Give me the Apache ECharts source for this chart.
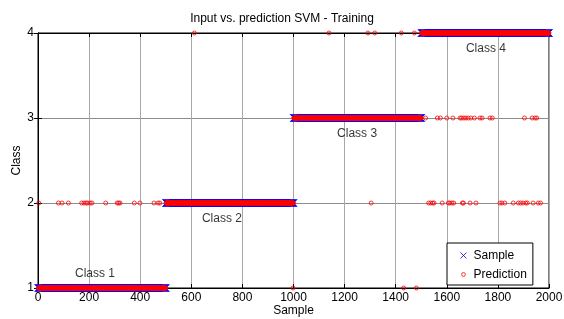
<!DOCTYPE html>
<html>
<head>
<meta charset="utf-8">
<script src="https://cdn.jsdelivr.net/npm/echarts@6/dist/echarts.min.js"></script>
<style>
  html, body { margin: 0; padding: 0; background: #fff; }
  #chart { width: 564px; height: 319px; }
</style>
</head>
<body>
<div id="chart"></div>
<script>
// sample blocks: samples classStart..classEnd belong to classValue
var classStart = [1, 501, 1001, 1501]
var classEnd = [500, 1000, 1500, 2000]
var classValue = [1, 2, 3, 4]

// misclassified samples and the class predicted for them
var wrongIndex = [
  612, 1139, 1291, 1318, 1422, 1473,
  1517, 1563, 1575, 1600, 1624, 1652, 1658, 1667, 1675, 1684, 1694, 1708, 1730, 1738, 1769, 1778, 1904, 1934, 1945, 1952,
  3, 80, 94, 119, 171, 180, 188, 194, 204, 211, 265, 310, 316, 321, 377, 399, 454, 470, 477,
  1304, 1529, 1537, 1545, 1550, 1582, 1606, 1612, 1620, 1627, 1661, 1665, 1691, 1714, 1808, 1816, 1827, 1860, 1880, 1889, 1898, 1909, 1915, 1938, 1958, 1967,
  998, 1431, 1481
]
var wrongClass = [
  4, 4, 4, 4, 4, 4,
  3, 3, 3, 3, 3, 3, 3, 3, 3, 3, 3, 3, 3, 3, 3, 3, 3, 3, 3, 3,
  2, 2, 2, 2, 2, 2, 2, 2, 2, 2, 2, 2, 2, 2, 2, 2, 2, 2, 2,
  2, 2, 2, 2, 2, 2, 2, 2, 2, 2, 2, 2, 2, 2, 2, 2, 2, 2, 2, 2, 2, 2, 2, 2, 2, 2,
  1, 1, 1
]

// text annotations (like matlab text(x, y, ...))
var noteText = ['Class 1', 'Class 2', 'Class 3', 'Class 4']
var noteX = [223, 720, 1249, 1753]
var noteY = [1.165, 1.82, 2.82, 3.81]

var sampleData = []
var predData = []
var wrongMap = {}
wrongIndex.forEach(function (idx, k) { wrongMap[idx] = wrongClass[k] })
for (var b = 0; b < classStart.length; b++) {
  for (var i = classStart[b]; i <= classEnd[b]; i++) {
    sampleData.push([i, classValue[b]])
    predData.push([i, wrongMap[i] !== undefined ? wrongMap[i] : classValue[b]])
  }
}
var notes = noteText.map(function (t, k) {
  return { name: t, value: [noteX[k], noteY[k]] }
})

var xPath = 'path://M0,0L10,10M10,0L0,10'
var circlePath = 'path://M0,0M16,16M8,5A3,3,0,1,1,7.99,5Z'
var font = 'Liberation Sans, Arial, sans-serif'
var plainNum = function (v) { return String(v) }

var chart = echarts.init(document.getElementById('chart'), null, { renderer: 'canvas' })
chart.setOption({
  animation: false,
  title: {
    text: 'Input vs. prediction SVM - Training',
    left: 'center',
    top: 8,
    textStyle: { fontSize: 12, fontWeight: 'normal', color: '#000', fontFamily: font }
  },
  grid: {
    left: 38, right: 15, top: 33, bottom: 31,
    outerBoundsMode: 'none',
    containLabel: false,
    show: true, borderColor: '#000', borderWidth: 1
  },
  legend: {
    left: 447,
    top: 243,
    orient: 'vertical',
    backgroundColor: '#fff',
    borderColor: '#000',
    borderWidth: 1,
    borderRadius: 0,
    padding: [5, 6, 3, 9],
    itemGap: 4,
    itemWidth: 10,
    itemHeight: 10,
    textStyle: { fontSize: 12, color: '#000', fontFamily: font },
    data: [
      { name: 'Sample', icon: 'path://M0,0M10,10M2,2L8,8M8,2L2,8', itemStyle: { color: 'none', borderColor: '#0000ff', borderWidth: 1 } },
      { name: 'Prediction', icon: circlePath, itemStyle: { color: 'none', borderColor: '#ff0000', borderWidth: 1 } }
    ]
  },
  xAxis: [{
    type: 'value',
    min: 0,
    max: 2000,
    interval: 200,
    name: 'Sample',
    nameLocation: 'middle',
    nameGap: 17,
    nameMoveOverlap: false,
    nameTextStyle: { fontSize: 12, color: '#000', fontFamily: font },
    axisLine: { show: true, lineStyle: { color: '#000', width: 1 } },
    axisTick: { show: true, inside: true, length: 4, lineStyle: { color: '#000' } },
    axisLabel: { fontSize: 12, color: '#000', fontFamily: font, margin: 4, formatter: plainNum },
    splitLine: { show: true, lineStyle: { color: '#a8a8a8', width: 1 } }
  }, {
    type: 'value',
    position: 'top',
    min: 0,
    max: 2000,
    interval: 200,
    axisLine: { show: true, lineStyle: { color: '#000' } },
    axisTick: { show: true, inside: true, length: 4, lineStyle: { color: '#000' } },
    axisLabel: { show: false },
    splitLine: { show: false }
  }],
  yAxis: [{
    type: 'value',
    min: 1,
    max: 4,
    interval: 1,
    name: 'Class',
    nameLocation: 'middle',
    nameGap: 15,
    nameMoveOverlap: false,
    nameRotate: 90,
    nameTextStyle: { fontSize: 12, color: '#000', fontFamily: font },
    axisLine: { show: true, lineStyle: { color: '#000', width: 1 } },
    axisTick: { show: true, inside: true, length: 4, lineStyle: { color: '#000' } },
    axisLabel: { fontSize: 12, color: '#000', fontFamily: font, margin: 4, formatter: plainNum },
    splitLine: { show: true, lineStyle: { color: '#8c8c8c', width: 1 } }
  }, {
    type: 'value',
    position: 'right',
    min: 1,
    max: 4,
    interval: 1,
    axisLine: { show: true, lineStyle: { color: '#000' } },
    axisTick: { show: true, inside: true, length: 4, lineStyle: { color: '#000' } },
    axisLabel: { show: false },
    splitLine: { show: false }
  }],
  series: [
    {
      name: 'Sample',
      type: 'scatter',
      clip: false,
      symbol: xPath,
      symbolSize: 7,
      itemStyle: { color: 'none', borderColor: '#0000ff', borderWidth: 1 },
      data: sampleData
    },
    {
      name: 'Prediction',
      type: 'scatter',
      clip: false,
      symbol: 'circle',
      symbolSize: 4,
      itemStyle: { color: 'none', borderColor: '#ff0000', borderWidth: 1 },
      data: predData
    },
    {
      name: 'notes',
      type: 'scatter',
      clip: false,
      symbolSize: 0,
      silent: true,
      label: {
        show: true,
        position: 'inside',
        formatter: '{b}',
        fontSize: 12,
        color: '#000',
        fontFamily: font
      },
      data: notes
    }
  ]
})
</script>
</body>
</html>
